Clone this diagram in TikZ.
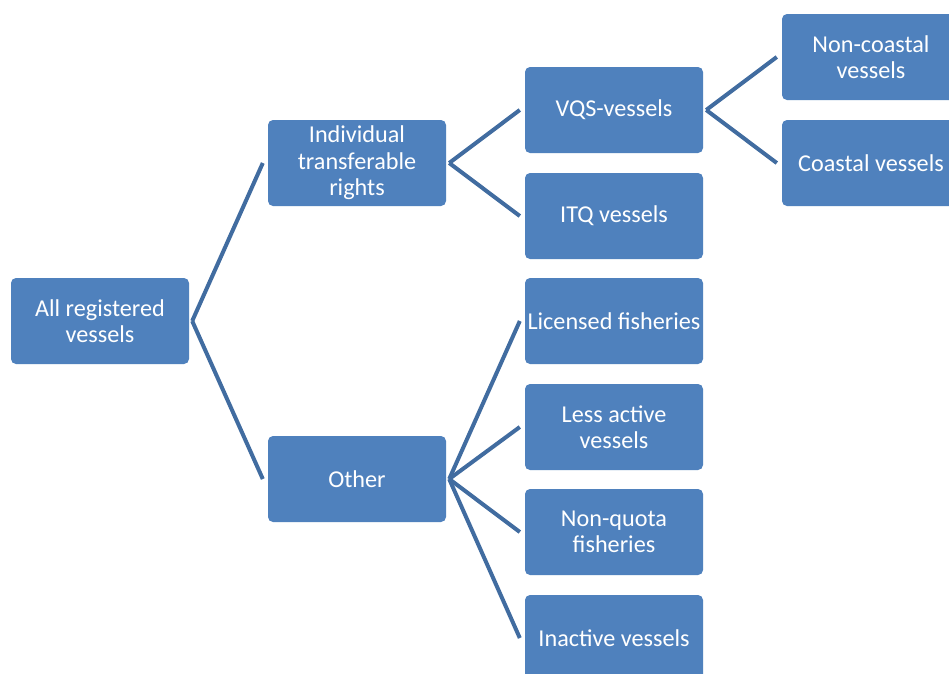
\documentclass[tikz,border=0pt]{standalone}
\usepackage{fontspec}
\setmainfont{Carlito}
\definecolor{boxblue}{RGB}{79,129,189}
\definecolor{lineblue}{RGB}{65,108,160}
\begin{document}
\begin{tikzpicture}[x=1pt,y=-1pt,
  box/.style={fill=boxblue, rounded corners=5pt, minimum width=178pt, minimum height=86pt,
    inner sep=0pt, text=white, align=center, font=\fontsize{24.2}{26.5}\selectfont},
  conn/.style={draw=lineblue, line width=4pt}]
\clip (0,0) rectangle (949,673);
\fill[white] (0,0) rectangle (949,673);
\node[box] (all) at (100,321) {All registered\\vessels};
\node[box] (itr) at (357,163) {Individual\\transferable\\rights};
\node[box] (oth) at (357,479) {Other};
\node[box] (vqs) at (614,110) {VQS-vessels};
\node[box] (itq) at (614,216) {ITQ vessels};
\node[box] (lic) at (614,321) {Licensed fisheries};
\node[box] (less) at (614,427) {Less active\\vessels};
\node[box] (nq) at (614,532) {Non-quota\\fisheries};
\node[box] (ina) at (614,638) {Inactive vessels};
\node[box] (nc) at (871,57) {Non-coastal\\vessels};
\node[box] (co) at (871,163) {Coastal vessels};
\foreach \p/\c in {all/itr, all/oth, itr/vqs, itr/itq, vqs/nc, vqs/co, oth/lic, oth/less, oth/nq, oth/ina}
  \draw[conn] ([xshift=3pt]\p.east) -- ([xshift=-5pt]\c.west);
\end{tikzpicture}
\end{document}
